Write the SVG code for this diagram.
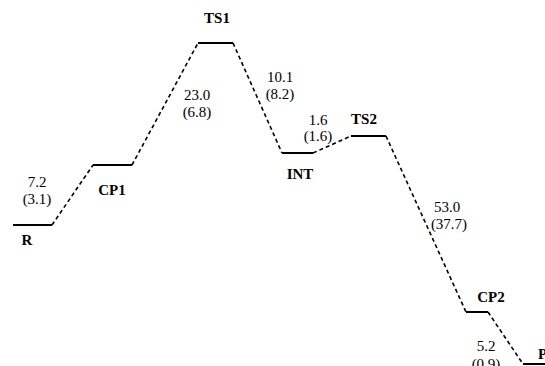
<svg xmlns="http://www.w3.org/2000/svg" width="545" height="366" viewBox="0 0 545 366">
<style>
.lvl{stroke:#000;stroke-width:2;fill:none}
.con{stroke:#000;stroke-width:1.6;stroke-dasharray:4 3;fill:none}
.lab{font-family:"Liberation Serif",serif;font-weight:bold;font-size:15px;fill:#000}
.num{font-family:"Liberation Serif",serif;font-size:15px;fill:#000;text-anchor:middle}
</style>
<rect width="545" height="366" fill="#fff"/>
<g id="connectors">
<path class="con" d="M52,225 L93,165"/>
<path class="con" d="M132,165 L198,43"/>
<path class="con" d="M233,43 L282,153"/>
<path class="con" d="M313,153 L351,136"/>
<path class="con" d="M386,136 L466,312"/>
<path class="con" d="M488,312 L523,364"/>
<text class="num" x="37" y="187">7.2</text>
<text class="num" x="37" y="204">(3.1)</text>
<text class="num" x="197" y="100">23.0</text>
<text class="num" x="197" y="117">(6.8)</text>
<text class="num" x="280" y="82">10.1</text>
<text class="num" x="280" y="99">(8.2)</text>
<text class="num" x="318" y="125">1.6</text>
<text class="num" x="318" y="141">(1.6)</text>
<text class="num" x="447" y="212">53.0</text>
<text class="num" x="449" y="229">(37.7)</text>
<text class="num" x="486" y="351">5.2</text>
<text class="num" x="486" y="369">(0.9)</text>
</g>
<g id="R"><path class="lvl" d="M13,225 H52"/><text class="lab" x="27" y="245" text-anchor="middle">R</text></g>
<g id="CP1"><path class="lvl" d="M93,165 H132"/><text class="lab" x="112" y="195" text-anchor="middle">CP1</text></g>
<g id="TS1"><path class="lvl" d="M198,43 H233"/><text class="lab" x="217" y="23" text-anchor="middle">TS1</text></g>
<g id="INT"><path class="lvl" d="M282,153 H313"/><text class="lab" x="300" y="179" text-anchor="middle">INT</text></g>
<g id="TS2"><path class="lvl" d="M351,136 H386"/><text class="lab" x="364" y="124" text-anchor="middle">TS2</text></g>
<g id="CP2"><path class="lvl" d="M466,312 H488"/><text class="lab" x="491" y="302" text-anchor="middle">CP2</text></g>
<g id="P"><path class="lvl" d="M523,364 H545"/><text class="lab" x="538" y="359">P</text></g>
</svg>
